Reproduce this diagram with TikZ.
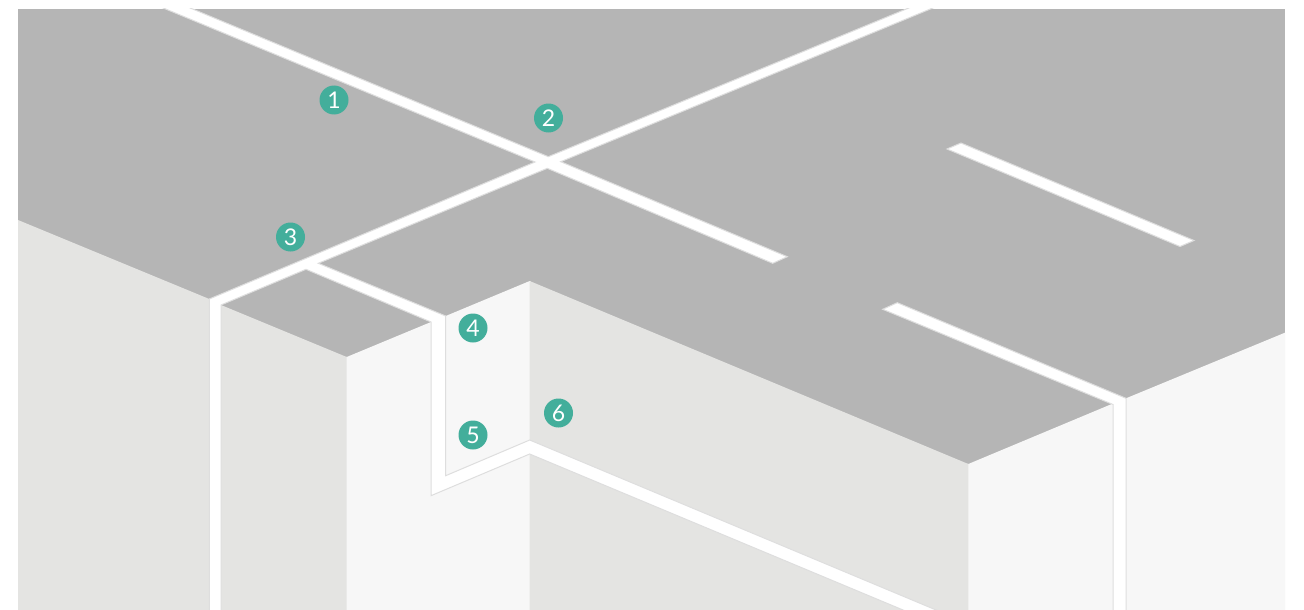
\documentclass[tikz,border=0pt]{standalone}
\usepackage{fontspec}
\setmainfont{Lato}
\definecolor{roof}{HTML}{B5B5B5}
\definecolor{wallA}{HTML}{E4E4E2}
\definecolor{wallB}{HTML}{F7F7F7}
\definecolor{seam}{HTML}{DEDEDE}
\definecolor{teal}{HTML}{43AE9B}
\tikzset{
  wallshade/.style={fill=wallA,draw=none},
  wallpale/.style={fill=wallB,draw=none},
  groove/.style={fill=white,draw=seam,line width=1pt,line join=miter},
  badge/.style={circle,fill=teal,text=white,inner sep=0pt,minimum size=29pt,font=\fontsize{23}{23}\selectfont}
}
\begin{document}
\begin{tikzpicture}[x=1pt,y=-1pt]
\useasboundingbox (0,0) rectangle (1304,610);
\fill[white] (0,0) rectangle (1304,610);
\begin{scope}
\clip (18,9) rectangle (1285,610);
\fill[roof] (18,9) rectangle (1285,610);
% pale walls first, running slightly under the shaded ones
\path[wallpale] (345.7,356.6) -- (346.7,357) -- (431,322) -- (431,495.7) -- (529.7,454) -- (530.7,454.4) -- (530.7,615) -- (345.7,615) -- cycle;
\path[wallpale] (445.7,316) -- (529.7,281) -- (530.7,281.4) -- (530.7,440) -- (445.7,475.7) -- cycle;
\path[wallpale] (967.3,463.6) -- (968.3,464) -- (1113,403.5) -- (1113,615) -- (967.3,615) -- cycle;
\path[wallpale] (1126,398.3) -- (1290,330.6) -- (1290,615) -- (1126,615) -- cycle;
% shaded walls
\path[wallshade] (18,220) -- (209.3,299) -- (209.3,615) -- (18,615) -- cycle;
\path[wallshade] (221,305) -- (346.7,357) -- (346.7,615) -- (221,615) -- cycle;
\path[wallshade] (529.7,454) -- (915,615) -- (529.7,615) -- cycle;
\path[wallshade] (529.7,281) -- (968.3,464) -- (968.3,615) -- (946,615) -- (529.7,440) -- cycle;
% grooves
\path[groove] (156,5) -- (535,162) -- (209.3,299) -- (209.3,615) -- (221,615) -- (221,305)
  -- (306,269.3) -- (431,322) -- (431,495.7) -- (529.7,454) -- (915,615) -- (948,615)
  -- (529.7,440) -- (445.7,475.7) -- (445.7,316) -- (318.3,263.3) -- (547.3,168.3)
  -- (772.7,263.3) -- (787.3,256.7) -- (560.7,161.7) -- (940,5) -- (916,5)
  -- (548.3,156.7) -- (183,5);
\path[groove] (882.7,309.3) -- (897.3,302.7) -- (1126,398.3) -- (1126,615) -- (1113,615) -- (1113,404.5) -- cycle;
\path[groove] (947,149) -- (961,143) -- (1194,240.5) -- (1180,246.5) -- cycle;
\end{scope}
% badges
\node[badge] (b1) at (334,100) {1};
\node[badge] (b2) at (548.5,118) {2};
\node[badge] (b3) at (290.5,237) {3};
\node[badge] (b4) at (473,328) {4};
\node[badge] (b5) at (473,435) {5};
\node[badge] (b6) at (558.5,413) {6};
\end{tikzpicture}
\end{document}
